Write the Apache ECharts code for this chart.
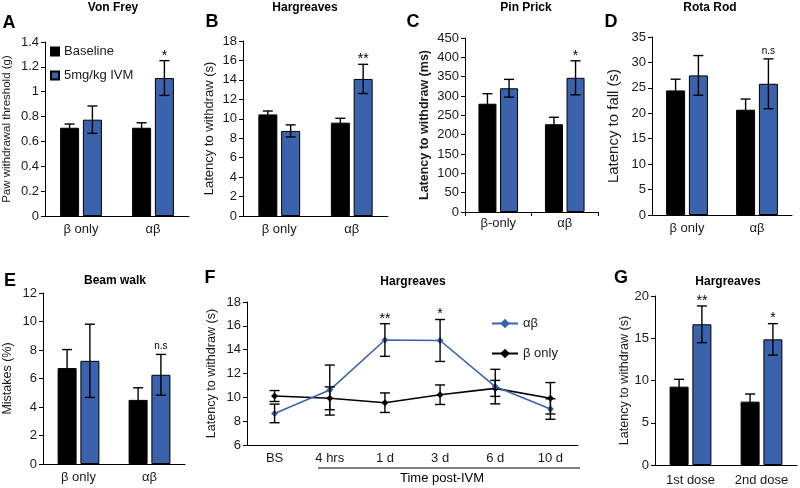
<!DOCTYPE html>
<html>
<head>
<meta charset="utf-8">
<script src="https://cdn.jsdelivr.net/npm/echarts@6/dist/echarts.min.js"></script>
<style>
  html, body { margin: 0; background: #fff; }
  #chart { width: 800px; height: 488px; }
</style>
</head>
<body>
<div id="chart"></div>
<script>
const FONT = '"Liberation Sans", Arial, sans-serif';
const BLUE = '#3b63ad';
const TXT = '#1a1a1a';

// categories
const groups = ['β only', 'αβ'];
const groupsC = ['β-only', 'αβ'];
const doses = ['1st dose', '2nd dose'];
const timeLabels = ['BS', '4 hrs', '1 d', '3 d', '6 d', '10 d'];

// A - Von Frey (g)
const vonFreyBase = [0.71, 0.71];
const vonFreyBaseErr = [0.03, 0.04];
const vonFreyIvm = [0.775, 1.11];
const vonFreyIvmErr = [0.11, 0.14];
const vonFreyMarks = ['', '*'];

// B - Hargreaves (s)
const hargBase = [10.45, 9.6];
const hargBaseErr = [0.35, 0.45];
const hargIvm = [8.75, 14.1];
const hargIvmErr = [0.62, 1.5];
const hargMarks = ['', '**'];

// C - Pin Prick (ms)
const pinBase = [280, 227];
const pinBaseErr = [26, 18];
const pinIvm = [320, 347];
const pinIvmErr = [23, 44];
const pinMarks = ['', '*'];

// D - Rota Rod (s)
const rotaBase = [24.5, 20.7];
const rotaBaseErr = [2.2, 2.1];
const rotaIvm = [27.45, 25.8];
const rotaIvmErr = [3.9, 4.9];
const rotaMarks = ['', 'n.s'];

// E - Beam walk (%)
const beamBase = [6.73, 4.5];
const beamBaseErr = [1.3, 0.85];
const beamIvm = [7.24, 6.26];
const beamIvmErr = [2.57, 1.43];
const beamMarks = ['', 'n.s'];

// F - Hargreaves time course (s)
const abLine = [8.65, 10.61, 14.81, 14.77, 10.9, 9.02];
const abLineErr = [0.78, 2.1, 1.37, 1.76, 1.45, 0.86];
const abLineMarks = ['', '', '**', '*', '', ''];
const bLine = [10.11, 9.92, 9.55, 10.22, 10.75, 9.92];
const bLineErr = [0.46, 0.96, 0.82, 0.82, 0.67, 1.32];

// G - Hargreaves repeated dose (s)
const doseBase = [9.27, 7.5];
const doseBaseErr = [0.87, 0.9];
const doseIvm = [16.65, 14.87];
const doseIvmErr = [2.17, 1.86];
const doseMarks = ['**', '*'];

const chart = echarts.init(document.getElementById('chart'));

const grids = [
  { left: 45, top: 42, width: 144, height: 174 },   // A
  { left: 243, top: 41, width: 145, height: 175 },  // B
  { left: 465, top: 38, width: 133, height: 174 },  // C
  { left: 652, top: 37, width: 140, height: 178 },  // D
  { left: 43, top: 293, width: 142, height: 171 },  // E
  { left: 247, top: 302, width: 331, height: 143 }, // F
  { left: 655, top: 296, width: 142, height: 169 }  // G
];

const axisLine = { show: true, lineStyle: { color: '#000', width: 1 } };

const xAxis = (gi, cats, opts = {}) => Object.assign({
  type: 'category', gridIndex: gi, data: cats,
  axisLine: axisLine,
  axisTick: { show: false },
  axisLabel: { color: TXT, fontSize: 13, fontFamily: FONT, margin: 7 },
  splitLine: { show: false }
}, opts);

const yAxis = (gi, min, max, interval, name, nameGap, nameSize, bold) => ({
  type: 'value', gridIndex: gi, min, max, interval,
  name, nameLocation: 'middle', nameGap,
  nameTextStyle: { color: TXT, fontSize: nameSize, fontFamily: FONT, fontWeight: bold ? 'bold' : 'normal' },
  axisLine: axisLine,
  axisTick: { show: true, length: 4, lineStyle: { color: '#000' } },
  axisLabel: { color: TXT, fontSize: 13, fontFamily: FONT, margin: 6 },
  splitLine: { show: false }
});

const errorBars = (gi, vals, errs, marks, offset) => ({
  type: 'custom', xAxisIndex: gi, yAxisIndex: gi, z: 5, silent: true,
  data: vals.map((v, i) => [i, v, errs[i]]),
  renderItem: (params, api) => {
    const i = api.value(0), v = api.value(1), e = api.value(2);
    const x = api.coord([i, v])[0] + offset;
    const top = api.coord([i, v + e])[1];
    const bot = api.coord([i, v - e])[1];
    const w = 5;
    const ls = { stroke: '#000', lineWidth: 1.4 };
    const children = [
      { type: 'line', shape: { x1: x, y1: top, x2: x, y2: bot }, style: ls },
      { type: 'line', shape: { x1: x - w, y1: top, x2: x + w, y2: top }, style: ls },
      { type: 'line', shape: { x1: x - w, y1: bot, x2: x + w, y2: bot }, style: ls }
    ];
    const m = marks ? marks[params.dataIndex] : '';
    if (m) {
      const ns = m === 'n.s';
      children.push({
        type: 'text', x: x, y: ns ? top - 3 : top + 2,
        style: {
          text: m, fill: '#000', font: (ns ? '10px ' : '14px ') + FONT,
          textAlign: 'center', textVerticalAlign: 'bottom', align: 'center', verticalAlign: 'bottom'
        }
      });
    }
    return { type: 'group', children };
  }
});

const BW = 19;

const barPanel = (gi, base, baseErr, ivm, ivmErr, marks, bw) => [
  { name: 'Baseline', type: 'bar', xAxisIndex: gi, yAxisIndex: gi, data: base,
    barWidth: bw || BW, barGap: '20%',
    itemStyle: { color: '#000', borderColor: '#000', borderWidth: 1 } },
  { name: '5mg/kg IVM', type: 'bar', xAxisIndex: gi, yAxisIndex: gi, data: ivm,
    barWidth: bw || BW, barGap: '20%',
    itemStyle: { color: BLUE, borderColor: '#000', borderWidth: 1 } },
  errorBars(gi, base, baseErr, null, -((bw || BW) * 1.2) / 2),
  errorBars(gi, ivm, ivmErr, marks, ((bw || BW) * 1.2) / 2)
];

const lineStyleCommon = (color) => ({
  type: 'line', xAxisIndex: 5, yAxisIndex: 5,
  symbol: 'diamond', symbolSize: 7, showSymbol: true,
  lineStyle: { color, width: 1.6 },
  itemStyle: { color, borderWidth: 0 }
});

const txt = (text, x, y, size, bold) => ({
  type: 'text', x, y, silent: true,
  style: {
    text, fill: '#000', font: (bold ? 'bold ' : '') + size + 'px ' + FONT,
    textAlign: 'center', textVerticalAlign: 'middle', align: 'center', verticalAlign: 'middle'
  }
});

chart.setOption({
  animation: false,
  textStyle: { fontFamily: FONT },
  grid: grids,
  legend: [
    {
      data: ['Baseline', '5mg/kg IVM'], orient: 'vertical', left: 45, top: 40,
      icon: 'rect', itemWidth: 8, itemHeight: 8, itemGap: 11,
      textStyle: { fontSize: 13, color: TXT, fontFamily: FONT }, selectedMode: false
    },
    {
      data: ['αβ', 'β only'], orient: 'vertical', left: 486, top: 312,
      itemWidth: 26, itemHeight: 12, itemGap: 17,
      textStyle: { fontSize: 13, color: TXT, fontFamily: FONT }, selectedMode: false
    }
  ],
  xAxis: [
    xAxis(0, groups),
    xAxis(1, groups),
    xAxis(2, groupsC, { axisTick: { show: true, length: 4, lineStyle: { color: '#000' } },
      axisLabel: { color: TXT, fontSize: 13, fontFamily: FONT, margin: 5 } }),
    xAxis(3, groups),
    xAxis(4, groups),
    xAxis(5, timeLabels),
    xAxis(6, doses, { axisLabel: { color: TXT, fontSize: 13, fontFamily: FONT, margin: 9 } })
  ],
  yAxis: [
    yAxis(0, 0, 1.4, 0.2, 'Paw withdrawal threshold (g)', 32, 11.5),
    yAxis(1, 0, 18, 2, 'Latency to withdraw (s)', 27.5, 13),
    yAxis(2, 0, 450, 50, 'Latency to withdraw (ms)', 33.5, 12.5, true),
    yAxis(3, 0, 35, 5, 'Latency to fall (s)', 30.5, 15),
    yAxis(4, 0, 12, 2, 'Mistakes (%)', 29, 12.5),
    yAxis(5, 6, 18, 2, 'Latency to withdraw (s)', 28.5, 12.6),
    yAxis(6, 0, 20, 5, 'Latency to withdraw (s)', 23, 12.6)
  ],
  series: [
    ...barPanel(0, vonFreyBase, vonFreyBaseErr, vonFreyIvm, vonFreyIvmErr, vonFreyMarks),
    ...barPanel(1, hargBase, hargBaseErr, hargIvm, hargIvmErr, hargMarks),
    ...barPanel(2, pinBase, pinBaseErr, pinIvm, pinIvmErr, pinMarks, 18),
    ...barPanel(3, rotaBase, rotaBaseErr, rotaIvm, rotaIvmErr, rotaMarks),
    ...barPanel(4, beamBase, beamBaseErr, beamIvm, beamIvmErr, beamMarks),
    Object.assign(lineStyleCommon('#000'), { name: 'β only', data: bLine, z: 3 }),
    Object.assign(lineStyleCommon(BLUE), { name: 'αβ', data: abLine, z: 4 }),
    errorBars(5, bLine, bLineErr, null, 0),
    errorBars(5, abLine, abLineErr, abLineMarks, 0),
    ...barPanel(6, doseBase, doseBaseErr, doseIvm, doseIvmErr, doseMarks)
  ],
  graphic: [
    txt('A', 9, 23, 18, true),
    txt('Von Frey', 113, 8, 12, true),
    txt('B', 212, 22, 18, true),
    txt('Hargreaves', 305, 8, 12, true),
    txt('C', 413, 22, 18, true),
    txt('Pin Prick', 526, 8, 12, true),
    txt('D', 611, 22, 18, true),
    txt('Rota Rod', 710, 8, 12, true),
    txt('E', 10, 281, 18, true),
    txt('Beam walk', 115, 281, 12, true),
    txt('F', 210, 278, 18, true),
    txt('Hargreaves', 413, 282, 12, true),
    txt('G', 621, 278, 18, true),
    txt('Hargreaves', 728, 282, 12, true),
    { type: 'line', silent: true, shape: { x1: 318, y1: 468, x2: 580, y2: 468 },
      style: { stroke: '#000', lineWidth: 1 } },
    txt('Time post-IVM', 442, 478, 13, false)
  ]
});
</script>
</body>
</html>
